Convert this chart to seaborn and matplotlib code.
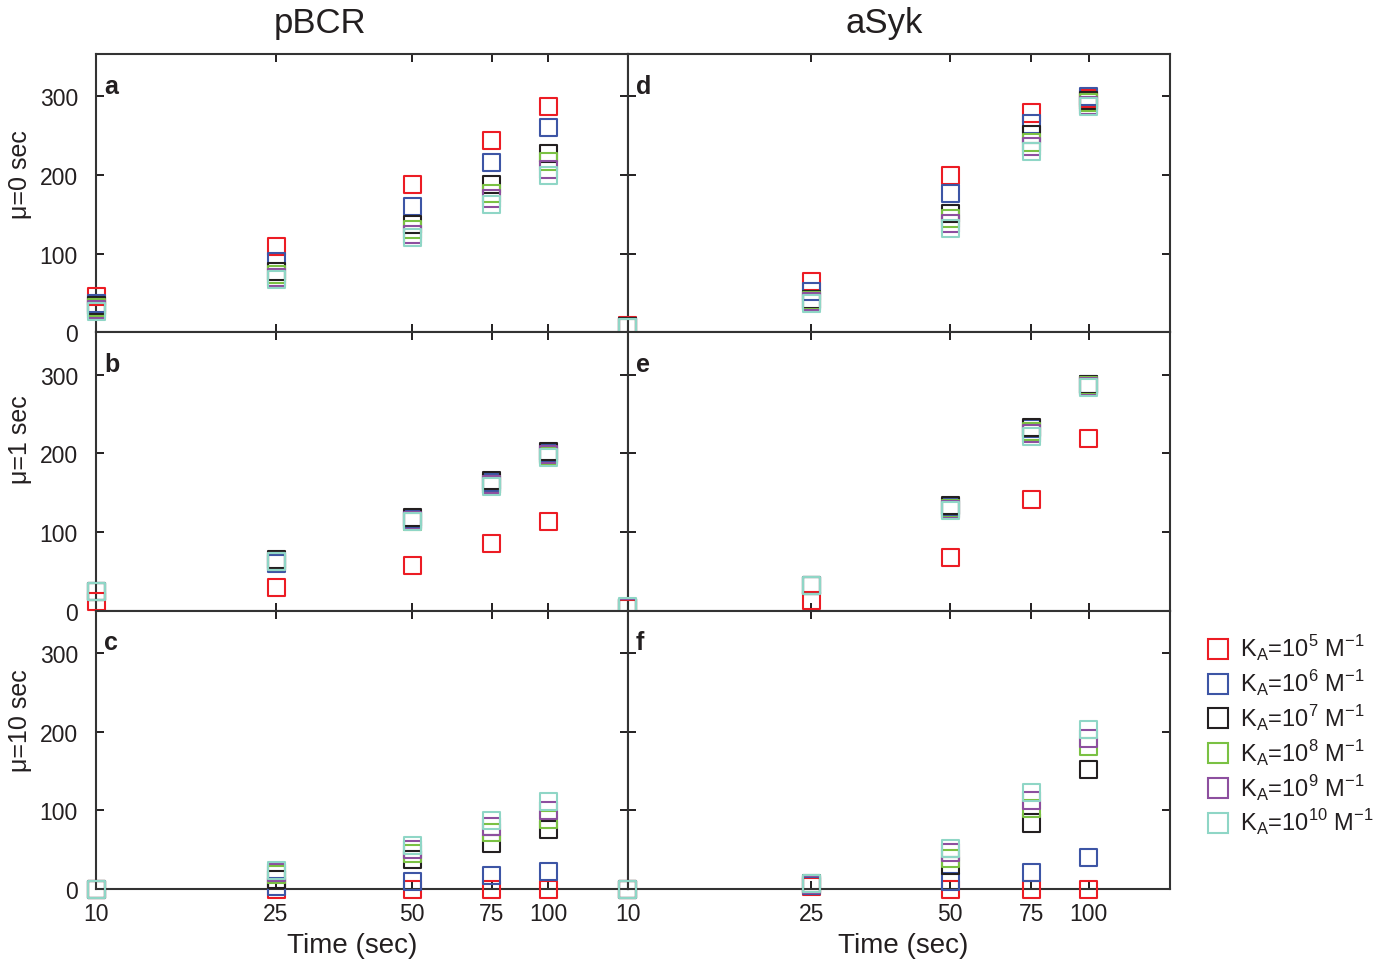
"""Simulated pBCR and aSyk time courses for several K_A values"""

import matplotlib

matplotlib.use("Agg")
import matplotlib.pyplot as plt
import pandas as pd
import seaborn as sns
from matplotlib.lines import Line2D
from matplotlib.ticker import NullLocator

times = [10, 25, 50, 75, 100]
ka_labels = [
    r"K$_\mathregular{A}$=10$^\mathregular{5}$ M$^\mathregular{-1}$",
    r"K$_\mathregular{A}$=10$^\mathregular{6}$ M$^\mathregular{-1}$",
    r"K$_\mathregular{A}$=10$^\mathregular{7}$ M$^\mathregular{-1}$",
    r"K$_\mathregular{A}$=10$^\mathregular{8}$ M$^\mathregular{-1}$",
    r"K$_\mathregular{A}$=10$^\mathregular{9}$ M$^\mathregular{-1}$",
    r"K$_\mathregular{A}$=10$^\mathregular{10}$ M$^\mathregular{-1}$",
]
ka_colors = ["#ec1c24", "#3d55a5", "#231f20", "#7ac143", "#8d4f9f", "#8fd6c6"]

# one row per K_A (1e5 .. 1e10), one column per time point
pbcr_mu0 = [
    [46, 109, 188, 244, 287],
    [37, 90, 160, 216, 260],
    [34, 77, 137, 188, 227],
    [31, 73, 131, 177, 217],
    [29, 70, 124, 170, 207],
    [27, 67, 121, 162, 200],
]
asyk_mu0 = [
    [9, 65, 200, 279, 297],
    [7, 52, 176, 265, 300],
    [7, 42, 151, 252, 295],
    [6, 40, 145, 242, 292],
    [6, 39, 138, 237, 289],
    [6, 37, 132, 230, 287],
]
pbcr_mu1 = [
    [12, 30, 58, 86, 113],
    [24, 60, 116, 163, 200],
    [24, 65, 118, 165, 203],
    [24, 63, 114, 160, 197],
    [25, 62, 115, 160, 199],
    [25, 62, 114, 158, 195],
]
asyk_mu1 = [
    [3, 13, 68, 142, 219],
    [4, 32, 132, 232, 288],
    [4, 32, 134, 233, 288],
    [4, 32, 130, 228, 286],
    [4, 32, 129, 226, 285],
    [5, 32, 127, 222, 284],
]
pbcr_mu10 = [
    [0, 0, 0, 0, 0],
    [0, 3, 10, 17, 22],
    [0, 12, 37, 58, 76],
    [0, 18, 45, 72, 88],
    [0, 21, 50, 79, 100],
    [0, 23, 55, 87, 111],
]
asyk_mu10 = [
    [0, 3, 0, 0, 0],
    [0, 5, 10, 21, 40],
    [0, 7, 30, 84, 152],
    [0, 6, 39, 102, 181],
    [0, 6, 47, 113, 192],
    [0, 7, 52, 123, 203],
]

species = ["pBCR", "aSyk"]
mu_labels = ["μ=0 sec", "μ=1 sec", "μ=10 sec"]
panel_letters = [["a", "d"], ["b", "e"], ["c", "f"]]
panels = [[pbcr_mu0, asyk_mu0], [pbcr_mu1, asyk_mu1], [pbcr_mu10, asyk_mu10]]


def to_frame(table):
    """Long form frame for one panel"""
    rows = []
    for ka, vals in zip(ka_labels, table):
        for t, v in zip(times, vals):
            rows.append({"time": t, "value": v, "ka": ka})
    return pd.DataFrame(rows)


def main():
    sns.set_style("ticks")
    plt.rcParams["font.family"] = ["Liberation Sans", "DejaVu Sans"]
    plt.rcParams["mathtext.fontset"] = "custom"
    plt.rcParams["mathtext.rm"] = "Liberation Sans"
    dark = "#231f20"

    fig, axes = plt.subplots(
        3, 2, figsize=(13.78, 9.62), dpi=100,
        gridspec_kw={"width_ratios": [532, 542]},
    )
    fig.subplots_adjust(left=0.0697, right=0.849, top=0.9428, bottom=0.0748,
                        hspace=0, wspace=0)

    for r in range(3):
        for c in range(2):
            ax = axes[r, c]
            df = to_frame(panels[r][c])
            sns.scatterplot(
                data=df, x="time", y="value", hue="ka", hue_order=ka_labels,
                palette=ka_colors, marker="s", s=150, linewidth=1.5,
                legend=False, ax=ax, clip_on=False, zorder=5,
            )
            # hollow squares
            for coll in ax.collections:
                fc = coll.get_facecolors()
                coll.set_edgecolors(fc)
                coll.set_facecolors("none")
            ax.set_xscale("log")
            ax.set_xlim(10, 150)
            ax.set_ylim(0, 354)
            ax.set_xticks(times)
            ax.xaxis.set_minor_locator(NullLocator())
            ax.set_yticks([0, 100, 200, 300])
            ax.tick_params(direction="in", top=True, right=True, length=6,
                           width=1.4, color=dark, labelsize=16.5,
                           labelcolor=dark)
            ax.tick_params(axis="y", pad=13)
            ax.tick_params(axis="x", pad=9)
            for sp in ax.spines.values():
                sp.set_linewidth(1.5)
                sp.set_color("#333333")
            if r == 2:
                ax.set_xticklabels([str(t) for t in times])
                ax.set_xlabel("Time (sec)", fontsize=20, color=dark)
                ax.xaxis.set_label_coords(0.481 if c == 0 else 0.507, -0.155)
            else:
                ax.set_xticklabels([])
                ax.set_xlabel("")
            if c == 0:
                ax.set_ylabel(mu_labels[r], fontsize=18, color=dark)
                ax.yaxis.set_label_coords(-0.12, [0.57, 0.62, 0.61][r])
            else:
                ax.set_yticklabels([])
                ax.set_ylabel("")
            ax.text(0.015, 0.93, panel_letters[r][c], transform=ax.transAxes,
                    fontsize=18, fontweight="bold", va="top", ha="left",
                    color=dark)

    fig.text(320 / 1378, 1 - 24 / 962, species[0], fontsize=25, ha="center",
             va="center", color=dark)
    fig.text(884 / 1378, 1 - 24 / 962, species[1], fontsize=25, ha="center",
             va="center", color=dark)

    handles = [
        Line2D([], [], marker="s", linestyle="none", markersize=14,
               markerfacecolor="none", markeredgecolor=col,
               markeredgewidth=1.5)
        for col in ka_colors
    ]
    fig.legend(handles, ka_labels, loc="upper left",
               bbox_to_anchor=(1183 / 1378, 1 - 613 / 962), frameon=False,
               fontsize=17, handletextpad=0.3, labelspacing=0.2,
               handlelength=1.2, labelcolor=dark)

    fig.savefig("out.png", dpi=100)


if __name__ == "__main__":
    main()
